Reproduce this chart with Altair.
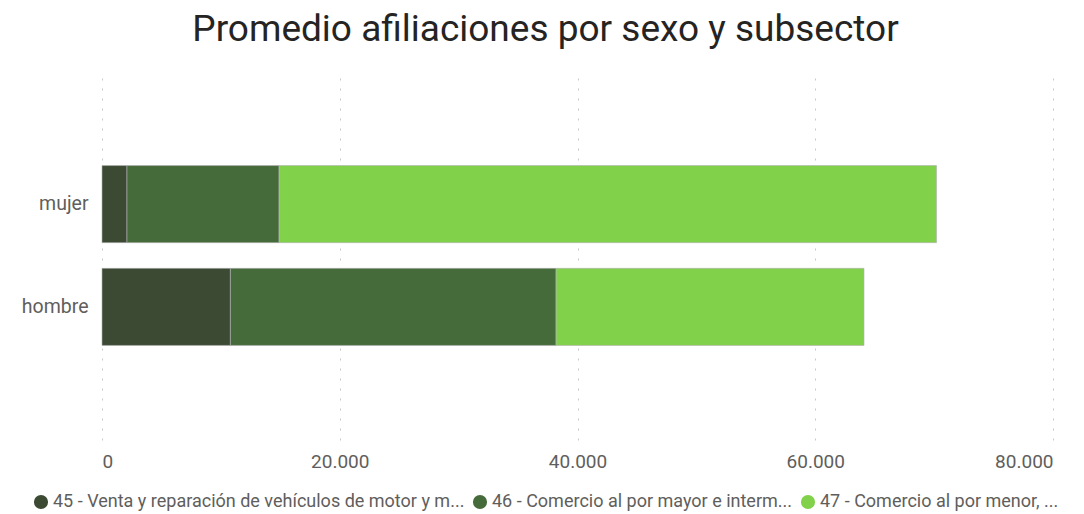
import altair as alt
import pandas as pd

sexos = ["mujer", "hombre"]
subsectores = [
    "45 - Venta y reparación de vehículos de motor y m...",
    "46 - Comercio al por mayor e interm...",
    "47 - Comercio al por menor, ...",
]
colores = ["#3c4a34", "#466b3a", "#81d14a"]
valores_mujer = [2100, 12800, 55300]
valores_hombre = [10800, 27400, 25900]
ticks_x = [0, 20000, 40000, 60000, 80000]

rows = []
for sexo, vals in zip(sexos, [valores_mujer, valores_hombre]):
    for i, (s, v) in enumerate(zip(subsectores, vals)):
        rows.append({"sexo": sexo, "subsector": s, "valor": v, "orden": i})
df = pd.DataFrame(rows)

chart = alt.Chart(df).mark_bar(stroke="#b0b0b0", strokeWidth=1, strokeOpacity=0.6).encode(
    y=alt.Y("sexo:N", sort=sexos, title=None,
            scale=alt.Scale(paddingInner=0.25, paddingOuter=0.92),
            axis=alt.Axis(domain=False, ticks=False, labelFontSize=19.5, labelColor="#605e5c",
                          labelFont="Roboto", labelPadding=14)),
    x=alt.X("sum(valor):Q", title=None,
            scale=alt.Scale(domain=[0, 80000], nice=False),
            axis=alt.Axis(values=ticks_x, domain=False, ticks=False, labelFontSize=19,
                          labelColor="#605e5c", labelFont="Roboto", labelPadding=12,
                          labelExpr="replace(format(datum.value, ',.0f'), ',', '.')",
                          grid=True, gridDash=[2, 8], gridColor="#c8c8c8", gridWidth=1)),
    color=alt.Color("subsector:N", sort=subsectores,
                    scale=alt.Scale(domain=subsectores, range=colores),
                    legend=alt.Legend(title=None, orient="none", direction="horizontal",
                                      legendX=-70, legendY=422, symbolType="circle",
                                      symbolSize=200, symbolStrokeWidth=0,
                                      labelFontSize=18, labelFont="Roboto", labelColor="#605e5c",
                                      labelLimit=600, columnPadding=6, symbolOffset=0,
                                      labelOffset=3)),
    order=alt.Order("orden:Q"),
).properties(
    width=951, height=369,
    title=alt.Title("Promedio afiliaciones por sexo y subsector", fontSize=37,
                    font="Roboto", fontWeight="normal", color="#252423",
                    anchor="middle", dx=-32, offset=22),
    autosize=alt.AutoSizeParams(type="none"),
    padding={"left": 94, "top": 63, "right": 22, "bottom": 73},
).configure_view(stroke=None)

chart.save("out.html", embed_options={"renderer": "svg", "actions": False})
